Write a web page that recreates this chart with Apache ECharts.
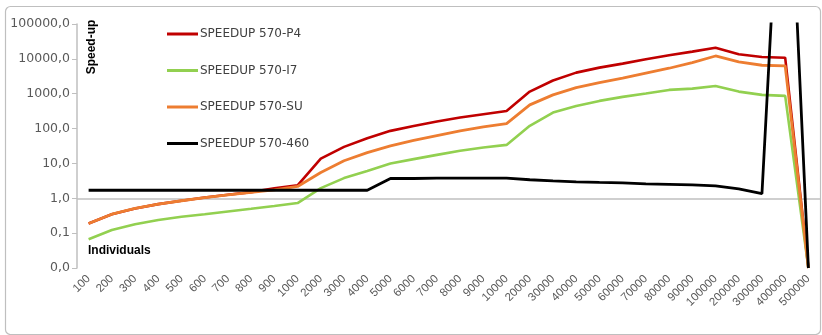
<!DOCTYPE html>
<html>
<head>
<meta charset="utf-8">
<script src="https://cdn.jsdelivr.net/npm/echarts@6/dist/echarts.min.js"></script>
<style>
  html, body { margin: 0; padding: 0; background: #ffffff; }
  #chart { width: 822px; height: 335px; }
</style>
</head>
<body>
<div id="chart"></div>
<script>
// Number of individuals (category axis)
const individuals = [
  '100', '200', '300', '400', '500', '600', '700', '800', '900', '1000',
  '2000', '3000', '4000', '5000', '6000', '7000', '8000', '9000', '10000',
  '20000', '30000', '40000', '50000', '60000', '70000', '80000', '90000', '100000',
  '200000', '300000', '400000', '500000'
];

// Speed-up values per platform
const speedupP4 = [
  0.19, 0.35, 0.51, 0.68, 0.85, 1.05, 1.26, 1.5, 1.95, 2.35,
  13.8, 29.9, 53, 86, 119, 159, 207, 258, 321,
  1150, 2400, 4030, 5600, 7290, 9740, 12700, 16100, 20900,
  13500, 11300, 10800, 0.01
];
const speedupI7 = [
  0.067, 0.123, 0.18, 0.237, 0.295, 0.35, 0.42, 0.5, 0.6, 0.73,
  1.95, 3.8, 6.1, 9.9, 13.3, 17.6, 23, 28.6, 34,
  120, 287, 447, 622, 810, 1010, 1285, 1400, 1670,
  1150, 925, 865, 0.01
];
const speedupSU = [
  0.19, 0.35, 0.51, 0.68, 0.85, 1.05, 1.26, 1.47, 1.75, 2.18,
  5.5, 11.9, 20.5, 32, 46, 63, 86, 112, 139,
  478, 924, 1500, 2080, 2780, 3870, 5380, 7780, 12100,
  8150, 6560, 6260, 0.01
];
const speedup460 = [
  1.7, 1.7, 1.7, 1.7, 1.7, 1.7, 1.7, 1.7, 1.7, 1.7,
  1.7, 1.7, 1.7, 3.7, 3.7, 3.8, 3.8, 3.8, 3.8,
  3.4, 3.17, 2.97, 2.87, 2.78, 2.6, 2.52, 2.44, 2.28,
  1.87, 1.35, 4e12, 0.01
];

// Value axis range (decades)
const yMin = 0.01;
const yMax = 100000;

const seriesDefs = [
  { name: 'SPEEDUP 570-P4', data: speedupP4, color: '#c00000', width: 2.6 },
  { name: 'SPEEDUP 570-I7', data: speedupI7, color: '#92d050', width: 2.6 },
  { name: 'SPEEDUP 570-SU', data: speedupSU, color: '#ed7d31', width: 2.8 },
  { name: 'SPEEDUP 570-460', data: speedup460, color: '#000000', width: 2.8 }
];

const chart = echarts.init(document.getElementById('chart'));

const series = seriesDefs.map(function (s, i) {
  const item = {
    name: s.name,
    type: 'line',
    data: s.data,
    symbol: 'none',
    clip: true,
    lineStyle: { color: s.color, width: s.width },
    itemStyle: { color: s.color },
    z: 3 + i
  };
  if (i === 0) {
    // horizontal axis crosses the value axis at 1
    item.markLine = {
      silent: true,
      symbol: 'none',
      label: { show: false },
      lineStyle: { color: '#bfbfbf', width: 1.5, type: 'solid' },
      data: [{ yAxis: 1 }],
      z: 1
    };
  }
  return item;
});

chart.setOption({
  animation: false,
  backgroundColor: '#ffffff',
  textStyle: { fontFamily: 'DejaVu Sans, sans-serif' },
  grid: { left: 77, right: 2, top: 24, bottom: 67, containLabel: false },
  legend: {
    orient: 'vertical',
    left: 162,
    top: 23,
    icon: 'rect',
    itemWidth: 31,
    itemHeight: 3,
    itemGap: 24.5,
    textStyle: {
      color: '#404040',
      fontSize: 12,
      fontFamily: 'DejaVu Sans, sans-serif',
      padding: [0, 0, 0, -3]
    },
    data: seriesDefs.map(function (s) { return s.name; })
  },
  xAxis: {
    type: 'category',
    data: individuals,
    boundaryGap: true,
    axisLine: { show: false },
    axisTick: { show: false },
    axisLabel: {
      rotate: 45,
      interval: 0,
      margin: 9,
      color: '#595959',
      fontSize: 11.5,
      fontFamily: 'Liberation Sans, Arial, sans-serif'
    },
    splitLine: { show: false }
  },
  yAxis: {
    type: 'log',
    logBase: 10,
    min: yMin,
    max: yMax,
    splitNumber: 7,
    axisLine: { show: true, lineStyle: { color: '#bfbfbf', width: 1.5 } },
    axisTick: { show: true, length: 5, lineStyle: { color: '#bfbfbf' } },
    axisLabel: {
      color: '#595959',
      fontSize: 12.5,
      margin: 7,
      fontFamily: 'DejaVu Sans, sans-serif',
      formatter: function (v) { return v.toFixed(1).replace('.', ','); }
    },
    splitLine: { show: false }
  },
  graphic: [
    {
      type: 'rect',
      left: 3, top: 4,
      shape: { width: 815, height: 328, r: 5 },
      style: { fill: 'none', stroke: '#bfbfbf', lineWidth: 1.2 },
      silent: true,
      z: -1
    },
    {
      type: 'text',
      x: 92, y: 47,
      rotation: Math.PI / 2,
      style: {
        text: 'Speed-up',
        font: 'bold 12px Liberation Sans, Arial, sans-serif',
        fill: '#000000',
        textAlign: 'center',
        textVerticalAlign: 'middle'
      }
    },
    {
      type: 'text',
      x: 88, y: 245,
      style: {
        text: 'Individuals',
        font: 'bold 12px Liberation Sans, Arial, sans-serif',
        fill: '#000000'
      }
    }
  ],
  series: series
});
</script>
</body>
</html>
